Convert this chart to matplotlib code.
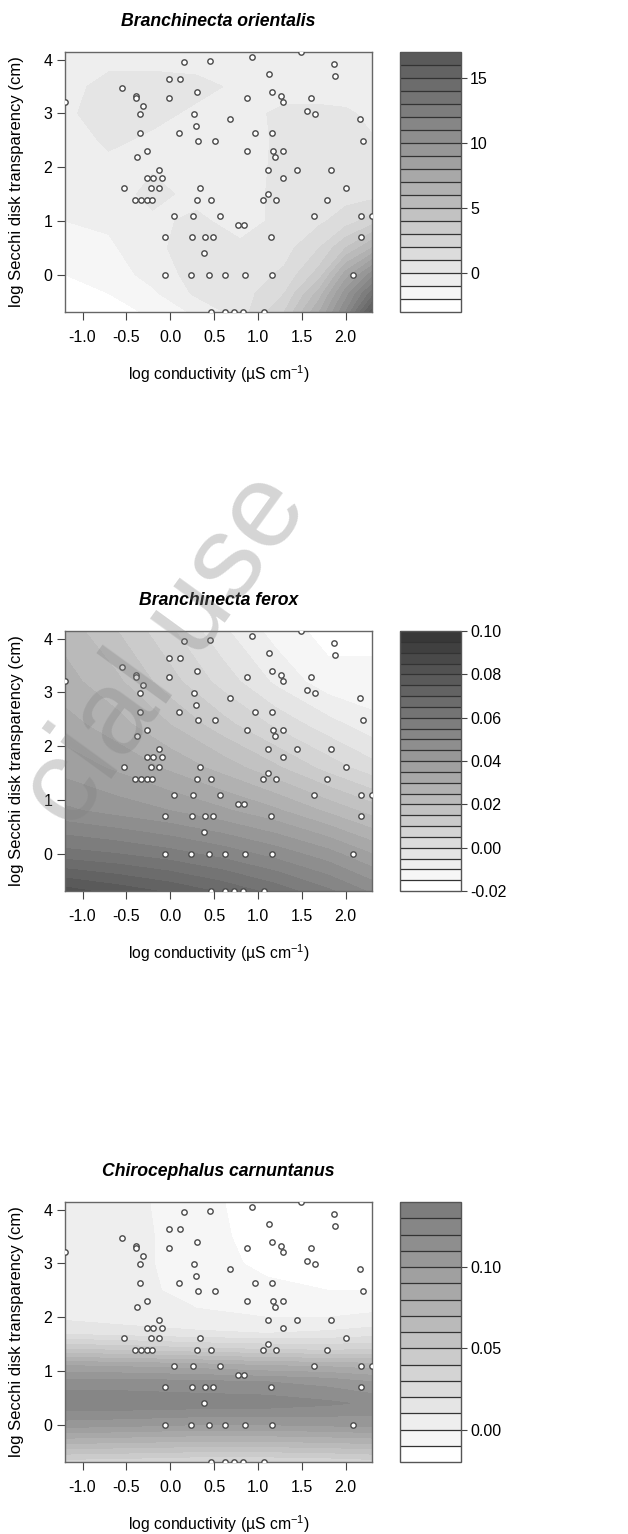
import numpy as np
import matplotlib.pyplot as plt
from matplotlib.ticker import FormatStrFormatter

plt.rcParams['font.family'] = ['Liberation Sans', 'DejaVu Sans']
plt.rcParams['axes.unicode_minus'] = False
plt.rcParams['mathtext.fontset'] = 'custom'
plt.rcParams['mathtext.rm'] = 'Liberation Sans'

# sampled ponds: log conductivity (x) and log Secchi depth (y)
cond = [-1.20, -0.55, -0.53, -0.39, -0.39, -0.31, -0.34, -0.34, -0.38, -0.26,
        -0.13, -0.26, -0.20, -0.09, -0.22, -0.13, -0.40, -0.33, -0.26, -0.21,
        -0.02, -0.02, 0.11, 0.16, 0.10, 0.04, -0.06, -0.06, 0.31, 0.27,
        0.29, 0.32, 0.51, 0.45, 0.34, 0.30, 0.46, 0.26, 0.57, 0.25,
        0.40, 0.49, 0.38, 0.24, 0.44, 0.62, 0.85, 0.46, 0.62, 0.73,
        0.83, 1.07, 0.93, 0.68, 0.88, 0.97, 0.87, 0.77, 0.84, 1.13,
        1.16, 1.26, 1.28, 1.16, 1.17, 1.19, 1.28, 1.12, 1.29, 1.11,
        1.06, 1.20, 1.15, 1.16, 1.49, 1.44, 1.56, 1.61, 1.65, 1.64,
        1.87, 1.88, 1.83, 1.79, 2.00, 2.16, 2.20, 2.17, 2.17, 2.30, 2.08]
secchi = [3.219, 3.466, 1.609, 3.332, 3.296, 3.135, 2.996, 2.639, 2.197, 2.303,
          1.946, 1.792, 1.792, 1.792, 1.609, 1.609, 1.386, 1.386, 1.386, 1.386,
          3.638, 3.296, 3.638, 3.951, 2.639, 1.099, 0.693, 0.000, 3.401, 2.996,
          2.773, 2.485, 2.485, 3.970, 1.609, 1.386, 1.386, 1.099, 1.099, 0.693,
          0.693, 0.693, 0.405, 0.000, 0.000, 0.000, 0.000, -0.693, -0.693, -0.693,
          -0.693, -0.693, 4.043, 2.890, 3.296, 2.639, 2.303, 0.916, 0.916, 3.738,
          3.401, 3.332, 3.219, 2.639, 2.303, 2.197, 2.303, 1.946, 1.792, 1.504,
          1.386, 1.386, 0.693, 0.000, 4.143, 1.946, 3.045, 3.296, 2.996, 1.099,
          3.912, 3.689, 1.946, 1.386, 1.609, 2.890, 2.485, 1.099, 0.693, 1.099, 0.000]

titles = ['Branchinecta orientalis', 'Branchinecta ferox', 'Chirocephalus carnuntanus']

# predicted surfaces (rows go from bottom to top)
xs1 = [-1.2, -0.7, -0.2, 0.3, 0.8, 1.3, 1.7, 2.0, 2.3]
ys1 = [-0.693, -0.35, 0.0, 0.5, 1.0, 1.5, 2.0, 2.5, 3.0, 3.5, 4.143]
z1 = [[-2.8, -2.5, -1.8, -0.8, 0.5, 3.0, 7.0, 11.0, 16.5],
      [-2.5, -2.0, -1.2, 0.2, 0.5, 2.0, 5.5, 9.5, 13.5],
      [-2.0, -1.6, -0.6, 0.4, 0.4, 1.2, 3.5, 7.5, 10.5],
      [-1.5, -1.2, -0.2, 0.4, 0.2, 0.6, 2.0, 4.0, 6.0],
      [-1.0, -0.8, -0.2, 0.2, -0.4, 0.3, 0.8, 1.5, 2.5],
      [-0.8, -0.5, 0.3, -0.3, -0.4, 0.3, 0.5, 0.6, 0.6],
      [-0.7, -0.3, -0.1, -0.5, -0.5, 0.3, 0.5, 0.7, 0.3],
      [-0.6, 0.2, -0.2, -0.4, -0.4, 0.2, 0.4, 0.3, 0.1],
      [-0.2, 0.5, 0.3, -0.2, -0.3, 0.2, 0.3, 0.2, -0.3],
      [-0.3, 0.3, 0.4, 0.3, -0.2, -0.4, -0.6, -0.7, -0.8],
      [-0.5, -0.4, -0.5, -0.6, -0.7, -0.6, -0.8, -0.9, -1.0]]

xs2 = [-1.2, -0.6, 0.0, 0.6, 1.2, 1.8, 2.3]
ys2 = [-0.693, 0.0, 0.8, 1.6, 2.4, 3.2, 4.143]
z2 = [[0.082, 0.078, 0.074, 0.069, 0.063, 0.056, 0.049],
      [0.062, 0.060, 0.057, 0.053, 0.048, 0.042, 0.035],
      [0.046, 0.043, 0.040, 0.036, 0.031, 0.024, 0.018],
      [0.038, 0.034, 0.029, 0.023, 0.016, 0.008, 0.002],
      [0.032, 0.027, 0.020, 0.012, 0.004, -0.003, -0.008],
      [0.027, 0.021, 0.012, 0.003, -0.006, -0.013, -0.014],
      [0.023, 0.015, 0.006, -0.004, -0.012, -0.017, -0.016]]

xs3 = [-1.2, -0.5, 0.3, 1.1, 1.8, 2.3]
ys3 = [-0.693, -0.35, 0.0, 0.4, 0.8, 1.1, 1.4, 1.7, 2.0, 2.5, 3.0, 3.5, 4.143]
z3 = [[0.035, 0.033, 0.030, 0.030, 0.032, 0.035],
      [0.070, 0.068, 0.066, 0.066, 0.068, 0.070],
      [0.105, 0.103, 0.100, 0.100, 0.102, 0.104],
      [0.128, 0.128, 0.127, 0.126, 0.122, 0.118],
      [0.114, 0.114, 0.112, 0.110, 0.106, 0.100],
      [0.090, 0.088, 0.085, 0.080, 0.078, 0.075],
      [0.050, 0.048, 0.043, 0.040, 0.038, 0.040],
      [0.018, 0.015, 0.012, 0.010, 0.012, 0.015],
      [0.008, 0.005, 0.002, 0.000, 0.000, 0.002],
      [0.006, 0.004, -0.004, -0.008, -0.010, -0.010],
      [0.007, 0.004, -0.006, -0.012, -0.014, -0.014],
      [0.008, 0.004, -0.006, -0.014, -0.016, -0.016],
      [0.008, 0.003, -0.006, -0.016, -0.018, -0.018]]

# contour levels and colour key ticks
levels1 = np.arange(-3, 17.5, 1)
levels2 = np.arange(-0.02, 0.1025, 0.005)
levels3 = np.arange(-0.02, 0.1405, 0.01)
keyticks1 = [0, 5, 10, 15]
keyticks2 = [-0.02, 0.0, 0.02, 0.04, 0.06, 0.08, 0.10]
keyticks3 = [0.0, 0.05, 0.10]

panels = [(xs1, ys1, z1, levels1, keyticks1, '%d'),
          (xs2, ys2, z2, levels2, keyticks2, '%.2f'),
          (xs3, ys3, z3, levels3, keyticks3, '%.2f')]

W, H = 628, 1534
fig = plt.figure(figsize=(W / 100, H / 100), dpi=100)

tops = [52, 631, 1202]
for k, (gx, gy, gz, levels, kt, fmt) in enumerate(panels):
    top = tops[k]
    ax = fig.add_axes([65 / W, 1 - (top + 260) / H, 307 / W, 260 / H])
    cax = fig.add_axes([400 / W, 1 - (top + 260) / H, 61 / W, 260 / H])

    n = len(levels) - 1
    greys = [str(1 - 0.034 * i) for i in range(n)]
    X, Y = np.meshgrid(gx, gy)
    cs = ax.contourf(X, Y, np.array(gz), levels=levels, colors=greys)

    ax.scatter(cond, secchi, s=15, facecolor='white', edgecolor='#4a4a4a',
               linewidth=1.0, zorder=3)

    ax.set_xlim(-1.2, 2.3)
    ax.set_ylim(-0.693, 4.143)
    ax.set_xticks([-1.0, -0.5, 0.0, 0.5, 1.0, 1.5, 2.0])
    ax.set_yticks([0, 1, 2, 3, 4])
    ax.xaxis.set_major_formatter(FormatStrFormatter('%.1f'))
    ax.tick_params(axis='x', direction='out', length=6, width=0.8, color='#444444',
                   labelsize=11.5, pad=7)
    ax.tick_params(axis='y', direction='out', length=6, width=0.8, color='#444444',
                   labelsize=11.5, pad=3)
    for sp in ax.spines.values():
        sp.set_color('#666666')
        sp.set_linewidth(1.0)

    ax.set_title(titles[k], fontsize=12.7, fontweight='bold', fontstyle='italic', pad=19)
    ax.set_ylabel('log Secchi disk transparency (cm)', fontsize=12, labelpad=14)
    ax.set_xlabel(r'log conductivity (µS cm$^{\mathregular{-1}}$)', fontsize=11.3, labelpad=13)

    cb = fig.colorbar(cs, cax=cax, drawedges=True, ticks=kt)
    cb.dividers.set_color('#333333')
    cb.dividers.set_linewidth(0.9)
    cb.outline.set_edgecolor('#555555')
    cb.outline.set_linewidth(1.0)
    cb.ax.yaxis.set_major_formatter(FormatStrFormatter(fmt))
    cb.ax.tick_params(direction='out', length=4.5, width=0.8, color='#444444',
                      labelsize=11.5, pad=2)

# watermark fragment running across the middle panel
fig.text(310 / W, 1 - 505 / H, 'cial use', fontsize=86, color='#808080',
         alpha=0.33, rotation=54, rotation_mode='anchor', ha='right', va='baseline')

fig.savefig('out.png', dpi=100)
